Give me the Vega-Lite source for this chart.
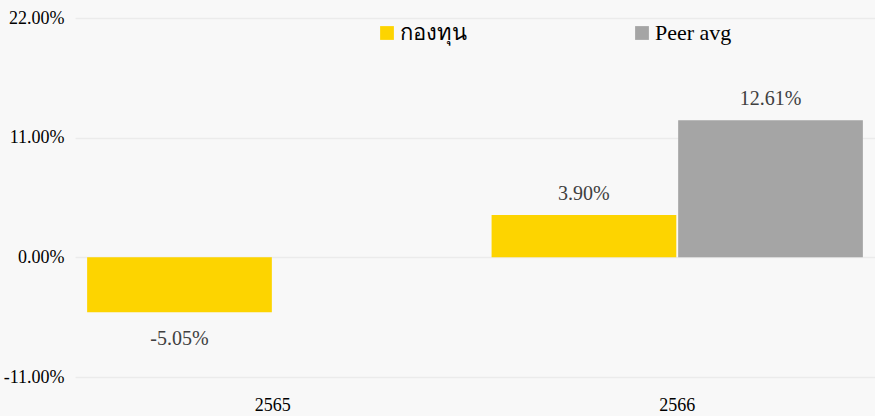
{
  "$schema": "https://vega.github.io/schema/vega-lite/v6.json",
  "autosize": "none",
  "width": 800,
  "height": 359,
  "padding": {"left": 75, "top": 18, "right": 0, "bottom": 39},
  "background": "#f8f8f8",
  "config": {
    "view": {"stroke": null},
    "font": "Liberation Serif",
    "locale": {
      "number": {"decimal": ".", "thousands": ",", "grouping": [3], "currency": ["$", ""], "minus": "-"}
    }
  },
  "data": {
    "values": [
      {"year": "2565", "series": "กองทุน", "value": -0.0505},
      {"year": "2566", "series": "กองทุน", "value": 0.039},
      {"year": "2566", "series": "Peer avg", "value": 0.1261}
    ]
  },
  "encoding": {
    "x": {
      "field": "year",
      "type": "nominal",
      "scale": {"paddingInner": 0.082, "paddingOuter": 0.03},
      "axis": {
        "title": null,
        "labelAngle": 0,
        "labelFont": "Liberation Serif",
        "labelFontSize": 18,
        "labelColor": "#000000",
        "labelPadding": 19,
        "domain": false,
        "ticks": false
      }
    },
    "xOffset": {
      "field": "series",
      "type": "nominal",
      "scale": {"domain": ["กองทุน", "Peer avg"], "paddingInner": 0.01}
    },
    "y": {
      "field": "value",
      "type": "quantitative",
      "scale": {"domain": [-0.11, 0.22], "nice": false, "zero": false},
      "axis": {
        "title": null,
        "values": [-0.11, 0, 0.11, 0.22],
        "format": ".2%",
        "labelFont": "Liberation Serif",
        "labelFontSize": 18,
        "labelColor": "#000000",
        "labelPadding": 11,
        "domain": false,
        "ticks": false,
        "gridColor": "#ebebeb",
        "gridWidth": 1.5
      }
    }
  },
  "layer": [
    {
      "mark": {"type": "bar"},
      "encoding": {
        "color": {
          "field": "series",
          "type": "nominal",
          "scale": {"domain": ["กองทุน", "Peer avg"], "range": ["#fdd400", "#a5a5a5"]},
          "legend": {
            "title": null,
            "orient": "none",
            "direction": "horizontal",
            "legendX": 301,
            "legendY": 4,
            "symbolType": "square",
            "symbolSize": 190,
            "symbolStrokeWidth": 0,
            "symbolOpacity": 1,
            "labelFont": "Liberation Serif",
            "labelFontSize": 22,
            "labelColor": "#000000",
            "labelOffset": 2,
            "columnPadding": 164
          }
        }
      }
    },
    {
      "transform": [{"filter": "datum.value >= 0"}],
      "mark": {"type": "text", "baseline": "bottom", "dy": -11, "fontSize": 20, "font": "Liberation Serif", "color": "#404040"},
      "encoding": {"text": {"field": "value", "type": "quantitative", "format": ".2%"}}
    },
    {
      "transform": [{"filter": "datum.value < 0"}],
      "mark": {"type": "text", "baseline": "top", "dy": 17, "fontSize": 20, "font": "Liberation Serif", "color": "#404040"},
      "encoding": {"text": {"field": "value", "type": "quantitative", "format": ".2%"}}
    }
  ]
}
